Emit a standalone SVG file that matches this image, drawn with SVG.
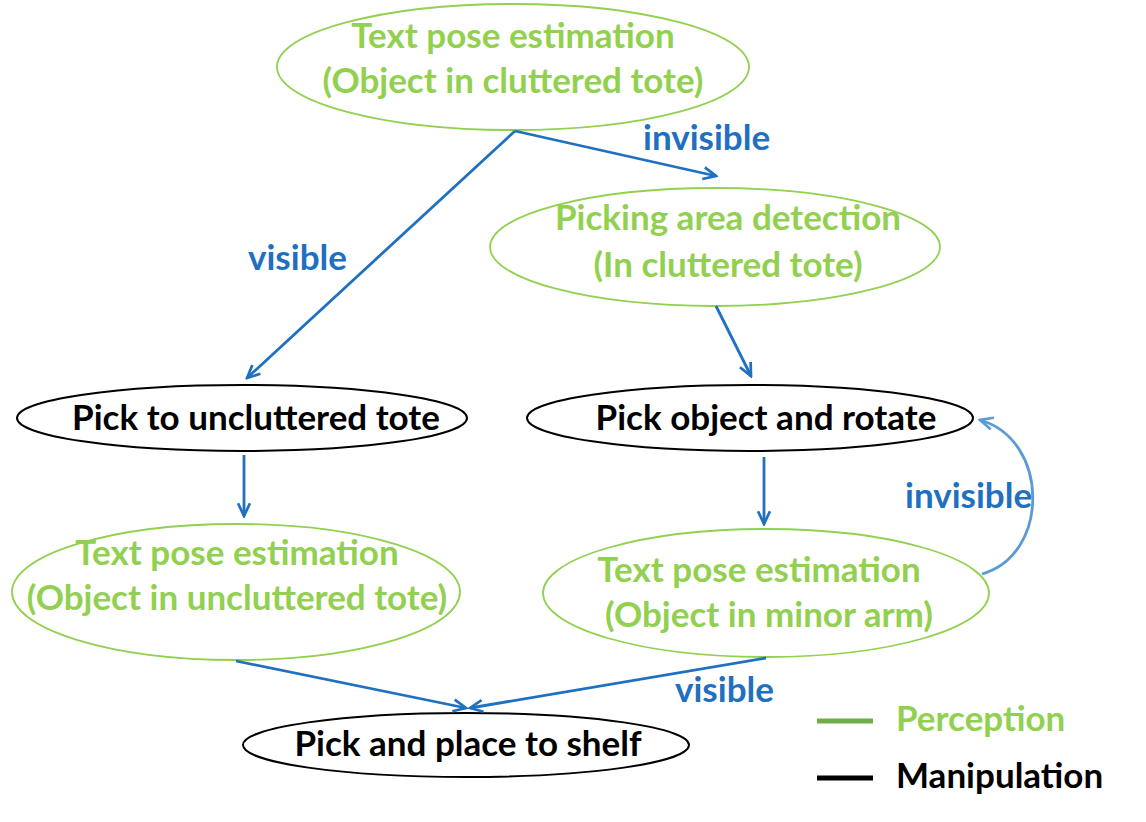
<svg xmlns="http://www.w3.org/2000/svg" width="1146" height="822" viewBox="0 0 1146 822">
<defs>
<style>
.per{fill:#fff;stroke:#92d050;stroke-width:1.8}
.man{fill:#fff;stroke:#000;stroke-width:2}
.pt{font-family:Lato,"Liberation Sans",sans-serif;font-weight:bold;font-size:35px;fill:#92d050;text-anchor:middle}
.mt{font-family:Lato,"Liberation Sans",sans-serif;font-weight:bold;font-size:35px;fill:#000;text-anchor:middle}
.lb{font-family:Lato,"Liberation Sans",sans-serif;font-weight:bold;font-size:35px;fill:#1f70c1}
.c{fill:none;stroke:#1f70c1;stroke-width:2.8;marker-end:url(#ah)}
</style>
<marker id="ah" viewBox="0 0 20 20" refX="18" refY="10" markerWidth="17" markerHeight="17" markerUnits="userSpaceOnUse" orient="auto">
<path d="M3,3 L18,10 L3,17" fill="none" stroke="#1f70c1" stroke-width="3.2"/>
</marker>
<marker id="ah2" viewBox="0 0 20 20" refX="18" refY="10" markerWidth="17" markerHeight="17" markerUnits="userSpaceOnUse" orient="auto">
<path d="M3,3 L18,10 L3,17" fill="none" stroke="#5b9bd5" stroke-width="3.2"/>
</marker>
</defs>
<rect width="1146" height="822" fill="#fff"/>
<g id="n1"><ellipse class="per" cx="513" cy="67" rx="236" ry="63"/><text class="pt" x="513" y="48">Text pose estimation</text><text class="pt" x="513" y="93">(Object in cluttered tote)</text></g>
<g id="n2"><ellipse class="per" cx="715" cy="247" rx="225" ry="59"/><text class="pt" x="728" y="230">Picking area detection</text><text class="pt" x="728" y="277">(In cluttered tote)</text></g>
<g id="n3"><ellipse class="man" cx="242" cy="418" rx="225" ry="33"/><text class="mt" x="256" y="430">Pick to uncluttered tote</text></g>
<g id="n4"><ellipse class="man" cx="750" cy="418" rx="223" ry="33"/><text class="mt" x="766" y="430">Pick object and rotate</text></g>
<g id="n5"><ellipse class="per" cx="236" cy="592" rx="224" ry="68"/><text class="pt" x="237" y="565">Text pose estimation</text><text class="pt" x="237" y="610">(Object in uncluttered tote)</text></g>
<g id="n6"><ellipse class="per" cx="766" cy="593" rx="223" ry="64"/><text class="pt" x="759" y="582">Text pose estimation</text><text class="pt" x="769" y="627">(Object in minor arm)</text></g>
<g id="n7"><ellipse class="man" cx="466" cy="745" rx="223" ry="32"/><text class="mt" x="468" y="756">Pick and place to shelf</text></g>
<g id="connectors">
<path class="c" d="M515,131 L247,378"/>
<path class="c" d="M515,131 L716,176"/>
<path class="c" d="M716,306 L751,376"/>
<path class="c" d="M244,455 L244,516"/>
<path class="c" d="M764,457 L764,524"/>
<path class="c" d="M236,661 L466,708"/>
<path class="c" d="M766,658 L470,708"/>
<path d="M982,574 C1050,555 1050,440 980,420" fill="none" stroke="#5b9bd5" stroke-width="2.8" marker-end="url(#ah2)"/>
<text class="lb" x="643" y="150">invisible</text>
<text class="lb" x="248" y="270">visible</text>
<text class="lb" x="905" y="508">invisible</text>
<text class="lb" x="675" y="702">visible</text>
</g>
<g id="legend">
<line x1="817" y1="721" x2="873" y2="721" stroke="#70ad47" stroke-width="5"/>
<text x="896" y="731" font-family="Lato,'Liberation Sans',sans-serif" font-weight="bold" font-size="35" fill="#92d050">Perception</text>
<line x1="817" y1="778" x2="873" y2="778" stroke="#000" stroke-width="5"/>
<text x="896" y="788" font-family="Lato,'Liberation Sans',sans-serif" font-weight="bold" font-size="35" fill="#000">Manipulation</text>
</g>
</svg>
